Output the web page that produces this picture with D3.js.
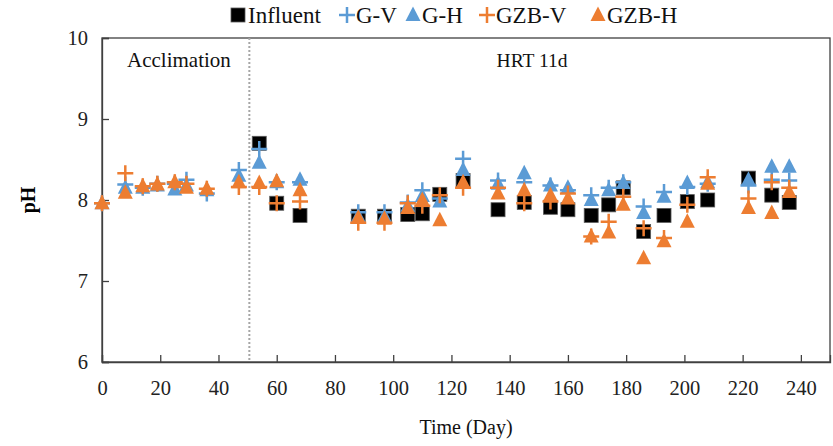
<!DOCTYPE html>
<html>
<head>
<meta charset="utf-8">
<script src="https://cdn.jsdelivr.net/npm/d3@7"></script>
<style>
  body { margin: 0; background: #fff; }
</style>
</head>
<body>
<svg id="chart" width="833" height="446"></svg>
<script>
// sampling days and pH readings
const days = [0, 8, 14, 19, 25, 29, 36, 47, 54, 60, 68, 88, 97, 105, 110, 116, 124, 136, 145, 154, 160, 168, 174, 179, 186, 193, 201, 208, 222, 230, 236];
const influentDays = [54, 60, 68, 88, 97, 105, 110, 116, 124, 136, 145, 154, 160, 168, 174, 179, 186, 193, 201, 208, 222, 230, 236];
const influent = [8.70, 7.96, 7.81, 7.80, 7.80, 7.82, 7.83, 8.07, 8.24, 7.88, 7.97, 7.91, 7.88, 7.81, 7.94, 8.15, 7.61, 7.81, 7.98, 8.00, 8.27, 8.06, 7.97];
const gV   = [7.96, 8.19, 8.15, 8.20, 8.20, 8.25, 8.08, 8.37, 8.63, 8.22, 8.22, 7.85, 7.85, 7.97, 8.12, 8.02, 8.51, 8.24, 8.22, 8.18, 8.12, 8.06, 8.15, 8.22, 7.92, 8.10, 8.16, 8.20, 8.18, 8.25, 8.24];
const gH   = [7.96, 8.15, 8.15, 8.18, 8.13, 8.18, 8.12, 8.30, 8.46, 8.22, 8.25, 7.80, 7.80, 7.93, 8.05, 7.98, 8.37, 8.20, 8.33, 8.18, 8.15, 8.00, 8.12, 8.21, 7.84, 8.04, 8.21, 8.22, 8.25, 8.41, 8.41];
const gzbV = [7.96, 8.33, 8.17, 8.20, 8.22, 8.20, 8.14, 8.16, 8.16, 7.96, 7.98, 7.72, 7.72, 7.96, 7.93, 8.06, 8.15, 8.15, 7.96, 7.98, 8.08, 7.55, 7.73, 8.04, 7.65, 7.53, 7.94, 8.28, 8.02, 8.22, 8.15];
const gzbH = [7.96, 8.09, 8.17, 8.19, 8.22, 8.15, 8.14, 8.22, 8.21, 8.23, 8.12, 7.78, 7.77, 7.90, 8.00, 7.75, 8.22, 8.08, 8.12, 8.06, 8.02, 7.55, 7.60, 7.94, 7.28, 7.49, 7.73, 8.20, 7.90, 7.84, 8.10];
const xTicks = [0, 20, 40, 60, 80, 100, 120, 140, 160, 180, 200, 220, 240];
const yTicks = [6, 7, 8, 9, 10];
const acclimationEnd = 50.6;

const font = '"Liberation Serif", "Times New Roman", serif';
const blue = '#5B9BD5', orange = '#ED7D31';
const series = [
  { name: 'Influent', x: influentDays, y: influent, shape: 'square', color: '#000' },
  { name: 'G-V', x: days, y: gV, shape: 'plus', color: blue },
  { name: 'G-H', x: days, y: gH, shape: 'triangle', color: blue },
  { name: 'GZB-V', x: days, y: gzbV, shape: 'plus', color: orange },
  { name: 'GZB-H', x: days, y: gzbH, shape: 'triangle', color: orange }
];

const svg = d3.select('#chart');
const m = { left: 102, right: 830, top: 38, bottom: 362 };
const x = d3.scaleLinear().domain([0, 250]).range([m.left, m.right]);
const y = d3.scaleLinear().domain([6, 10]).range([m.bottom, m.top]);

// frame
svg.append('rect')
  .attr('x', m.left).attr('y', m.top)
  .attr('width', m.right - m.left).attr('height', m.bottom - m.top)
  .attr('fill', 'none').attr('stroke', '#404040').attr('stroke-width', 1.3);

// axes with inward ticks
const xAxis = svg.append('g').attr('transform', `translate(0,${m.bottom})`)
  .call(d3.axisBottom(x).tickValues(xTicks).tickSize(-7).tickPadding(18).tickFormat(d3.format('d')));
const yAxis = svg.append('g').attr('transform', `translate(${m.left},0)`)
  .call(d3.axisLeft(y).tickValues(yTicks).tickSize(-7).tickPadding(14).tickFormat(d3.format('d')));
[xAxis, yAxis].forEach(g => {
  g.attr('font-family', font);
  g.select('.domain').attr('stroke', '#404040').attr('stroke-width', 1.3);
  g.selectAll('.tick line').attr('stroke', '#404040').attr('stroke-width', 1.3);
  g.selectAll('.tick text').attr('font-size', 20.5).attr('fill', '#222');
});

// acclimation divider
svg.append('line')
  .attr('x1', x(acclimationEnd)).attr('x2', x(acclimationEnd))
  .attr('y1', m.top).attr('y2', m.bottom)
  .attr('stroke', '#A6A6A6').attr('stroke-width', 2).attr('stroke-dasharray', '2,2');

const label = (tx, ty, size, txt) => svg.append('text')
  .attr('x', tx).attr('y', ty).attr('font-family', font).attr('font-size', size).attr('fill', '#111').text(txt);

label(127, 67, 21, 'Acclimation');
label(532, 67, 19.5, 'HRT 11d').attr('text-anchor', 'middle');

// axis titles
label((m.left + m.right) / 2, 434, 20, 'Time (Day)').attr('text-anchor', 'middle');
svg.append('text').attr('transform', 'translate(35,200) rotate(-90)')
  .attr('text-anchor', 'middle').attr('font-family', font).attr('font-size', 20)
  .attr('font-weight', 'bold').text('pH');

// marker drawing
function marker(g, shape, color, cx, cy) {
  if (shape === 'square') {
    g.append('rect').attr('x', cx - 7).attr('y', cy - 7).attr('width', 14).attr('height', 14)
      .attr('fill', color).attr('stroke', '#595959').attr('stroke-width', 0.8);
  } else if (shape === 'triangle') {
    g.append('path').attr('d', `M${cx},${cy - 8.5}L${cx + 7.5},${cy + 6}L${cx - 7.5},${cy + 6}Z`)
      .attr('fill', color);
  } else {
    g.append('path').attr('d', `M${cx - 8},${cy}H${cx + 8}M${cx},${cy - 8}V${cy + 8}`)
      .attr('stroke', color).attr('stroke-width', 2.5).attr('fill', 'none');
  }
}

const plot = svg.append('g');
series.forEach(s => {
  const g = plot.append('g');
  s.y.forEach((v, i) => marker(g, s.shape, s.color, x(s.x[i]), y(v)));
});

// legend
const legendItems = [
  { s: series[0], mx: 238, tx: 248 },
  { s: series[1], mx: 347, tx: 356 },
  { s: series[2], mx: 413, tx: 422 },
  { s: series[3], mx: 487, tx: 496 },
  { s: series[4], mx: 598, tx: 607 }
];
const lg = svg.append('g');
legendItems.forEach(d => {
  marker(lg, d.s.shape, d.s.color, d.mx, 15);
  lg.append('text').attr('x', d.tx).attr('y', 23).attr('font-family', font)
    .attr('font-size', 23).attr('fill', '#111').text(d.s.name);
});
</script>
</body>
</html>
